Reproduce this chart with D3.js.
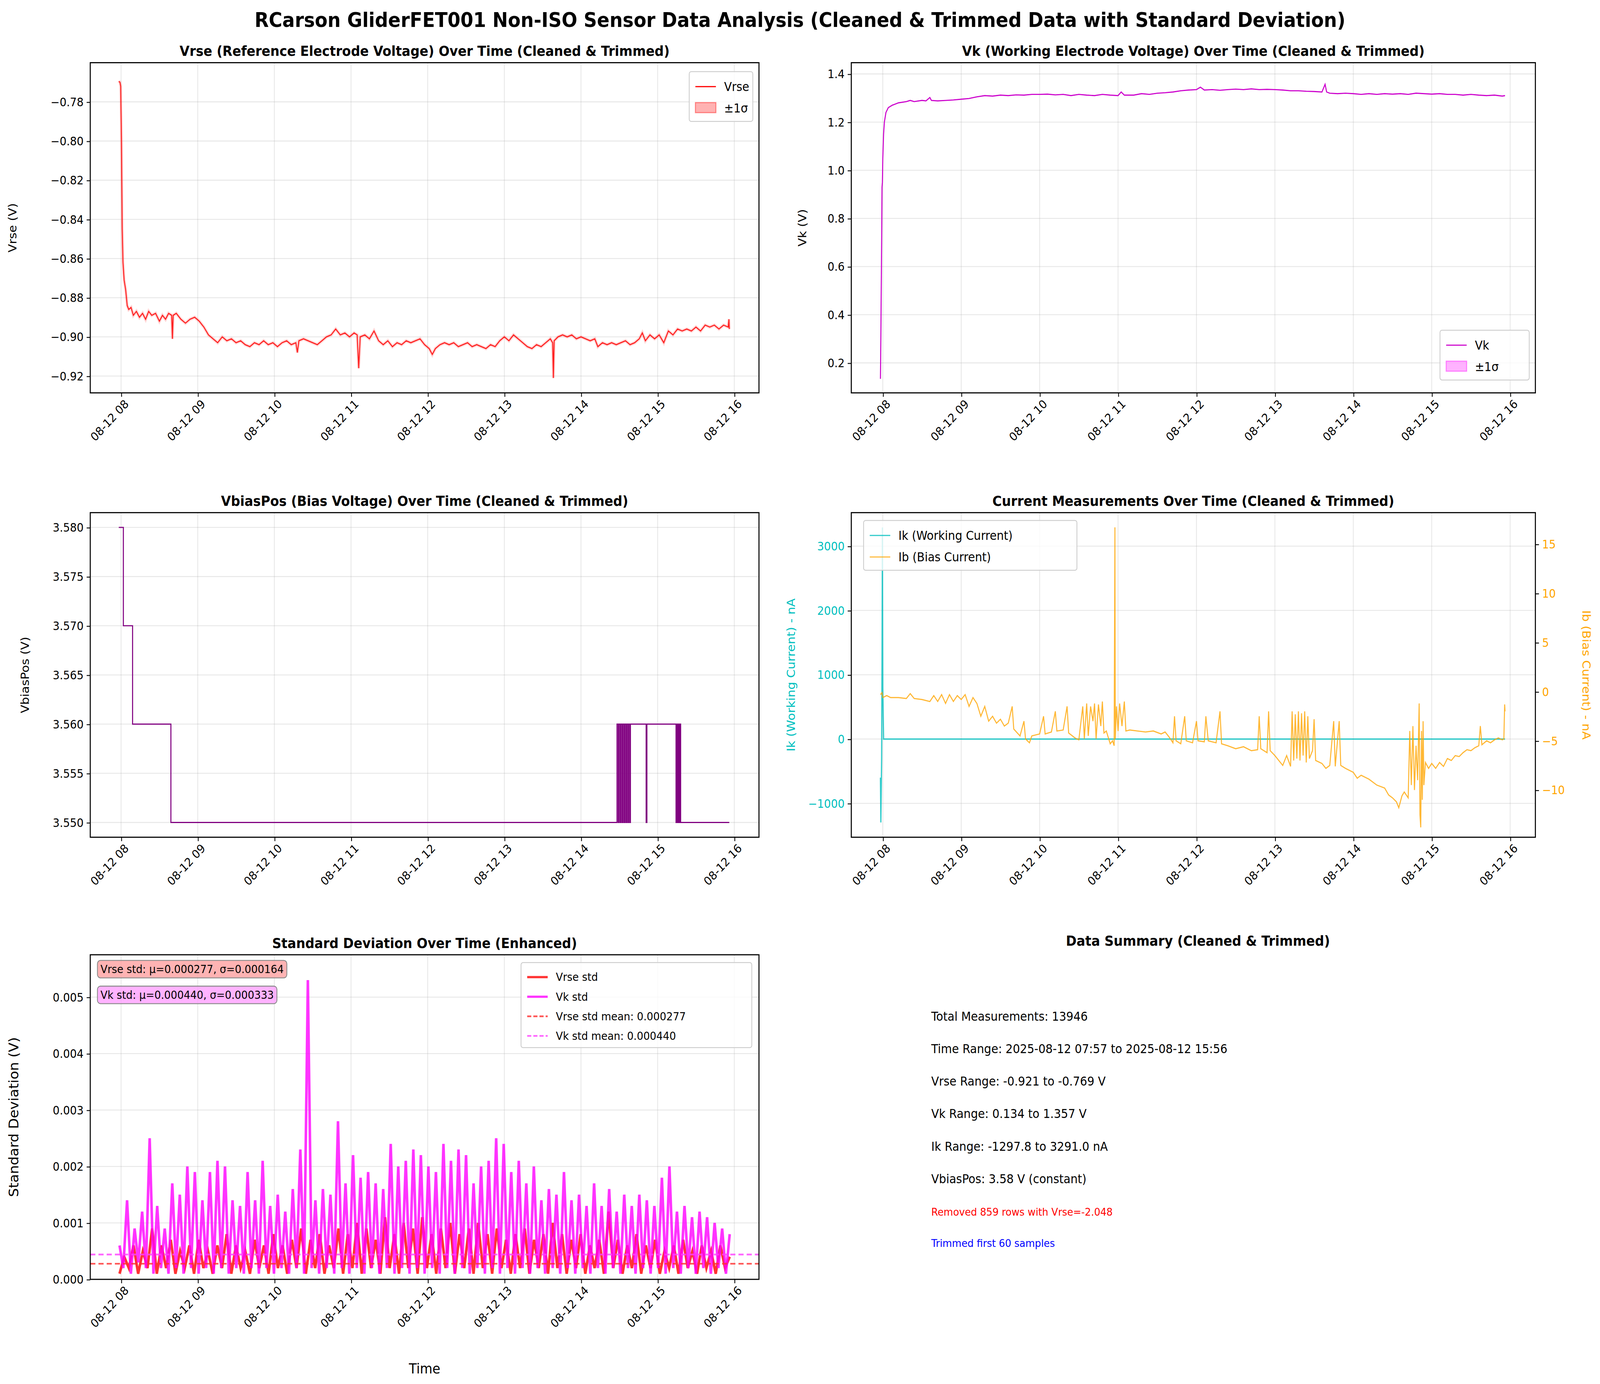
<!DOCTYPE html>
<html><head><meta charset="utf-8">
<script src="https://cdn.jsdelivr.net/npm/d3@7"></script>
<style>html,body{margin:0;padding:0;width:100%;height:100%;overflow:hidden;background:#fff} svg{display:block} text{font-family:"DejaVu Sans",sans-serif}</style>
</head><body>
<script>
// ---- data (hours of 2025-08-12, values) ----
const vrseData = [[7.97,-0.7695],[7.985,-0.770],[7.995,-0.772],[8.005,-0.80],[8.015,-0.845],[8.025,-0.862],[8.04,-0.871],[8.06,-0.876],[8.08,-0.884],[8.10,-0.886],[8.13,-0.885],[8.16,-0.889],[8.2,-0.887],[8.24,-0.890],[8.28,-0.888],[8.32,-0.891],[8.36,-0.887],[8.40,-0.889],[8.45,-0.888],[8.5,-0.892],[8.54,-0.889],[8.58,-0.891],[8.62,-0.888],[8.66,-0.889],[8.67,-0.901],[8.68,-0.889],[8.72,-0.888],[8.78,-0.891],[8.84,-0.893],[8.9,-0.891],[8.96,-0.890],[9.02,-0.892],[9.08,-0.895],[9.14,-0.899],[9.2,-0.901],[9.26,-0.903],[9.32,-0.900],[9.38,-0.902],[9.44,-0.901],[9.5,-0.903],[9.56,-0.902],[9.62,-0.904],[9.68,-0.905],[9.74,-0.903],[9.8,-0.904],[9.86,-0.902],[9.92,-0.904],[9.98,-0.903],[10.04,-0.905],[10.1,-0.903],[10.16,-0.902],[10.22,-0.904],[10.28,-0.903],[10.3,-0.908],[10.32,-0.902],[10.38,-0.901],[10.44,-0.902],[10.5,-0.903],[10.56,-0.904],[10.62,-0.902],[10.68,-0.900],[10.74,-0.899],[10.8,-0.896],[10.86,-0.899],[10.92,-0.898],[10.98,-0.900],[11.04,-0.898],[11.08,-0.899],[11.1,-0.916],[11.12,-0.900],[11.18,-0.899],[11.24,-0.901],[11.3,-0.897],[11.36,-0.902],[11.42,-0.904],[11.48,-0.902],[11.54,-0.905],[11.6,-0.903],[11.66,-0.904],[11.72,-0.902],[11.78,-0.903],[11.84,-0.902],[11.9,-0.901],[11.96,-0.904],[12.02,-0.906],[12.06,-0.909],[12.1,-0.906],[12.16,-0.904],[12.22,-0.903],[12.28,-0.904],[12.34,-0.903],[12.4,-0.905],[12.46,-0.904],[12.52,-0.903],[12.58,-0.905],[12.64,-0.904],[12.7,-0.905],[12.76,-0.906],[12.82,-0.904],[12.88,-0.905],[12.94,-0.902],[13.0,-0.900],[13.06,-0.902],[13.12,-0.899],[13.18,-0.901],[13.24,-0.903],[13.3,-0.905],[13.36,-0.906],[13.42,-0.904],[13.48,-0.905],[13.54,-0.903],[13.6,-0.901],[13.63,-0.903],[13.64,-0.921],[13.65,-0.902],[13.7,-0.900],[13.76,-0.899],[13.82,-0.900],[13.88,-0.899],[13.94,-0.901],[14.0,-0.900],[14.06,-0.901],[14.12,-0.902],[14.18,-0.901],[14.22,-0.905],[14.28,-0.903],[14.34,-0.904],[14.4,-0.903],[14.46,-0.904],[14.52,-0.903],[14.58,-0.902],[14.64,-0.904],[14.7,-0.903],[14.76,-0.901],[14.8,-0.898],[14.84,-0.902],[14.9,-0.899],[14.96,-0.901],[15.02,-0.899],[15.08,-0.903],[15.14,-0.897],[15.2,-0.899],[15.26,-0.896],[15.32,-0.897],[15.38,-0.896],[15.44,-0.897],[15.5,-0.895],[15.56,-0.897],[15.62,-0.894],[15.68,-0.895],[15.74,-0.894],[15.8,-0.896],[15.86,-0.894],[15.92,-0.895],[15.93,-0.891],[15.935,-0.896]];

const vkData = [[7.97,0.134],[7.975,0.3],[7.985,0.7],[7.99,0.93],[7.995,0.95],[8.0,1.05],[8.01,1.15],[8.02,1.2],[8.04,1.24],[8.07,1.26],[8.12,1.27],[8.2,1.28],[8.3,1.285],[8.35,1.29],[8.4,1.285],[8.5,1.29],[8.55,1.288],[8.6,1.302],[8.62,1.29],[8.7,1.288],[8.8,1.29],[8.9,1.292],[9.0,1.295],[9.1,1.298],[9.2,1.305],[9.3,1.31],[9.4,1.308],[9.5,1.312],[9.6,1.31],[9.7,1.313],[9.8,1.312],[9.9,1.315],[10.0,1.315],[10.1,1.316],[10.2,1.313],[10.3,1.315],[10.4,1.31],[10.5,1.315],[10.6,1.312],[10.7,1.31],[10.8,1.315],[10.9,1.312],[11.0,1.31],[11.04,1.325],[11.08,1.312],[11.2,1.312],[11.3,1.318],[11.4,1.315],[11.5,1.32],[11.6,1.322],[11.7,1.325],[11.8,1.33],[11.9,1.333],[12.0,1.335],[12.05,1.345],[12.1,1.333],[12.2,1.335],[12.3,1.332],[12.4,1.335],[12.5,1.337],[12.6,1.335],[12.7,1.338],[12.8,1.335],[12.9,1.336],[13.0,1.335],[13.1,1.333],[13.2,1.33],[13.3,1.33],[13.4,1.328],[13.5,1.327],[13.6,1.325],[13.64,1.357],[13.66,1.325],[13.7,1.32],[13.8,1.318],[13.9,1.32],[14.0,1.318],[14.1,1.315],[14.2,1.318],[14.3,1.315],[14.4,1.318],[14.5,1.316],[14.6,1.318],[14.7,1.315],[14.8,1.32],[14.9,1.318],[15.0,1.316],[15.1,1.318],[15.2,1.315],[15.3,1.315],[15.4,1.312],[15.5,1.315],[15.6,1.312],[15.7,1.31],[15.8,1.312],[15.9,1.308],[15.935,1.31]];

const vbiasData = [[7.97,3.58],[8.03,3.57],[8.15,3.56],[8.65,3.55],[14.47,3.56],[14.485,3.55],[14.495,3.56],[14.51,3.55],[14.52,3.56],[14.535,3.55],[14.545,3.56],[14.56,3.55],[14.57,3.56],[14.585,3.55],[14.595,3.56],[14.61,3.55],[14.62,3.56],[14.635,3.55],[14.645,3.56],[14.85,3.55],[14.86,3.56],[15.24,3.55],[15.25,3.56],[15.26,3.55],[15.27,3.56],[15.28,3.55],[15.29,3.56],[15.3,3.55],[15.935,3.55]];

const ikData = [[7.97,-600],[7.975,-1298],[7.985,-300],[7.99,1200],[7.995,3291],[8.0,800],[8.01,0],[15.935,0]];

const ibData = [[7.97,-0.3],[7.99,-0.1],[8.0,-0.6],[8.05,-0.4],[8.1,-0.6],[8.2,-0.6],[8.3,-0.7],[8.35,-0.2],[8.4,-0.7],[8.5,-0.8],[8.6,-1.0],[8.65,-0.4],[8.7,-1.0],[8.75,-0.3],[8.8,-1.2],[8.85,-0.3],[8.9,-1.0],[8.95,-0.4],[9.0,-0.8],[9.05,-0.3],[9.1,-1.5],[9.15,-0.6],[9.2,-1.2],[9.25,-2.5],[9.3,-1.5],[9.35,-3.0],[9.4,-2.5],[9.45,-3.2],[9.5,-2.8],[9.55,-3.5],[9.6,-3.2],[9.65,-1.5],[9.67,-3.8],[9.75,-4.5],[9.8,-3.0],[9.82,-4.8],[9.87,-5.2],[9.9,-4.5],[10.0,-4.3],[10.05,-2.5],[10.07,-4.3],[10.15,-4.1],[10.2,-2.0],[10.22,-4.0],[10.3,-3.9],[10.35,-1.5],[10.37,-4.2],[10.45,-4.7],[10.5,-4.9],[10.55,-1.5],[10.57,-4.8],[10.6,-1.2],[10.62,-4.5],[10.65,-1.5],[10.68,-3.0],[10.7,-1.2],[10.72,-4.8],[10.75,-1.3],[10.78,-3.5],[10.8,-1.0],[10.82,-4.2],[10.85,-4.0],[10.9,-5.3],[10.93,-5.0],[10.95,-5.5],[10.96,16.7],[10.965,-4.8],[10.98,-1.5],[11.0,-4.0],[11.02,-1.2],[11.05,-3.5],[11.08,-1.0],[11.1,-4.0],[11.15,-3.9],[11.25,-4.0],[11.35,-4.1],[11.45,-4.0],[11.55,-4.3],[11.6,-4.1],[11.65,-4.6],[11.7,-5.2],[11.72,-2.5],[11.74,-5.0],[11.8,-5.3],[11.85,-2.5],[11.87,-5.0],[11.95,-5.2],[12.0,-3.0],[12.02,-5.0],[12.1,-5.1],[12.12,-2.5],[12.15,-5.0],[12.25,-5.2],[12.3,-2.0],[12.32,-5.3],[12.4,-5.5],[12.5,-5.8],[12.6,-5.6],[12.7,-6.0],[12.78,-5.9],[12.8,-2.5],[12.82,-5.8],[12.9,-6.2],[12.92,-2.0],[12.94,-6.0],[13.0,-6.5],[13.05,-7.0],[13.1,-7.5],[13.15,-6.5],[13.2,-7.6],[13.22,-2.0],[13.24,-7.0],[13.26,-2.3],[13.28,-6.8],[13.3,-2.0],[13.32,-7.0],[13.34,-2.2],[13.36,-6.5],[13.38,-2.0],[13.4,-7.2],[13.42,-2.5],[13.44,-6.8],[13.48,-6.0],[13.5,-2.8],[13.52,-7.0],[13.6,-7.3],[13.65,-7.8],[13.7,-7.5],[13.75,-3.0],[13.77,-7.6],[13.82,-3.0],[13.84,-7.5],[13.9,-7.8],[14.0,-8.2],[14.05,-8.8],[14.1,-8.5],[14.2,-8.9],[14.3,-9.5],[14.4,-9.8],[14.45,-10.5],[14.5,-10.8],[14.55,-11.2],[14.58,-11.8],[14.62,-10.6],[14.65,-10.2],[14.7,-10.8],[14.72,-4.0],[14.74,-9.5],[14.76,-3.5],[14.78,-10.0],[14.8,-5.5],[14.82,-9.0],[14.84,-1.2],[14.85,-12.5],[14.86,-13.8],[14.87,-4.0],[14.88,-11.0],[14.89,-3.0],[14.9,-9.5],[14.92,-7.2],[14.96,-7.8],[15.0,-7.3],[15.05,-7.8],[15.1,-7.2],[15.15,-7.6],[15.2,-6.8],[15.25,-7.0],[15.3,-6.5],[15.35,-6.6],[15.4,-6.2],[15.45,-5.9],[15.5,-6.0],[15.55,-5.7],[15.6,-5.5],[15.62,-3.5],[15.64,-5.4],[15.7,-5.0],[15.75,-5.2],[15.8,-4.9],[15.85,-4.7],[15.9,-4.9],[15.92,-4.8],[15.93,-1.3],[15.935,-2.0]];

// rolling std samples, evenly spaced from stdStart to stdEnd
const stdStart = 7.98, stdEnd = 15.94;
const vkStd = [0.0006,0.0002,0.0014,0.0001,0.0009,0.0003,0.0012,0.0002,0.0025,0.0001,0.0013,0.0002,0.0009,0.0001,0.0017,0.0002,0.0015,0.0001,0.0020,0.0002,0.0019,0.0001,0.0014,0.0002,0.0019,0.0001,0.0021,0.0002,0.0020,0.0001,0.0014,0.0002,0.0013,0.0001,0.0019,0.0002,0.0014,0.0001,0.0021,0.0002,0.0013,0.0001,0.0015,0.0002,0.0012,0.0001,0.0016,0.0002,0.0023,0.0001,0.0053,0.0002,0.0014,0.0001,0.0016,0.0002,0.0015,0.0001,0.0028,0.0002,0.0017,0.0001,0.0022,0.0002,0.0018,0.0001,0.0019,0.0002,0.0017,0.0001,0.0016,0.0002,0.0024,0.0001,0.0020,0.0002,0.0021,0.0001,0.0023,0.0002,0.0022,0.0001,0.0020,0.0002,0.0019,0.0001,0.0024,0.0002,0.0021,0.0001,0.0023,0.0002,0.0022,0.0001,0.0017,0.0002,0.0020,0.0001,0.0021,0.0002,0.0025,0.0001,0.0024,0.0002,0.0019,0.0001,0.0021,0.0002,0.0017,0.0001,0.0020,0.0002,0.0014,0.0001,0.0016,0.0002,0.0015,0.0001,0.0019,0.0002,0.0014,0.0001,0.0015,0.0002,0.0013,0.0001,0.0017,0.0002,0.0013,0.0001,0.0016,0.0002,0.0012,0.0001,0.0015,0.0002,0.0013,0.0001,0.0015,0.0002,0.0014,0.0001,0.0013,0.0002,0.0018,0.0001,0.0020,0.0002,0.0012,0.0001,0.0013,0.0002,0.0011,0.0001,0.0012,0.0002,0.0011,0.0001,0.0010,0.0002,0.0009,0.0001,0.0008];
const vrseStd = [0.0001,0.0004,0.0002,0.0006,0.0001,0.0005,0.0002,0.0009,0.0001,0.0006,0.0002,0.0007,0.0001,0.0005,0.0002,0.0006,0.0001,0.0007,0.0002,0.0005,0.0001,0.0006,0.0002,0.0008,0.0001,0.0006,0.0002,0.0005,0.0001,0.0007,0.0002,0.0006,0.0001,0.0008,0.0002,0.0006,0.0001,0.0007,0.0002,0.0009,0.0001,0.0007,0.0002,0.0008,0.0001,0.0006,0.0002,0.0009,0.0001,0.0008,0.0002,0.0010,0.0001,0.0009,0.0002,0.0007,0.0001,0.0011,0.0002,0.0008,0.0001,0.0010,0.0002,0.0009,0.0001,0.0011,0.0002,0.0008,0.0001,0.0009,0.0002,0.0010,0.0001,0.0008,0.0002,0.0009,0.0001,0.0010,0.0002,0.0008,0.0001,0.0009,0.0002,0.0007,0.0001,0.0008,0.0002,0.0009,0.0001,0.0007,0.0002,0.0008,0.0001,0.0010,0.0002,0.0008,0.0001,0.0007,0.0002,0.0008,0.0001,0.0006,0.0002,0.0007,0.0001,0.0012,0.0002,0.0007,0.0001,0.0006,0.0002,0.0008,0.0001,0.0006,0.0002,0.0007,0.0001,0.0005,0.0002,0.0006,0.0001,0.0007,0.0002,0.0005,0.0001,0.0006,0.0002,0.0005,0.0001,0.0006,0.0002,0.0004];
const vrseStdMean = 0.000277, vkStdMean = 0.000440;

const timeTicks = [8, 9, 10, 11, 12, 13, 14, 15, 16];
const summaryLines = [
  "Total Measurements: 13946",
  "Time Range: 2025-08-12 07:57 to 2025-08-12 15:56",
  "Vrse Range: -0.921 to -0.769 V",
  "Vk Range: 0.134 to 1.357 V",
  "Ik Range: -1297.8 to 3291.0 nA",
  "VbiasPos: 3.58 V (constant)"
];

// ---- helpers ----
const W = 1560, H = 1236.5;
const svg = d3.select("body").append("svg")
  .attr("width", "100%").attr("height", "100%")
  .attr("viewBox", `0 0 ${W} ${H}`).attr("preserveAspectRatio", "none");

const day = new Date(2025, 7, 12);
const toDate = h => new Date(day.getTime() + h * 3600e3);
const fmt = d3.timeFormat("%m-%d %H");

function makeAxes(box, yDomain, yTicks, yFmt, title) {
  const g = svg.append("g").attr("transform", `translate(${box.x0},${box.y0})`);
  const w = box.x1 - box.x0, h = box.y1 - box.y0;
  const x = d3.scaleTime().domain([toDate(7.598), toDate(16.322)]).range([0, w]);
  const y = d3.scaleLinear().domain(yDomain).range([h, 0]);
  const clipId = "c" + Math.round(box.x0) + "_" + Math.round(box.y0);
  g.append("clipPath").attr("id", clipId).append("rect").attr("width", w).attr("height", h);
  // grid
  g.append("g").selectAll("line").data(timeTicks).join("line")
    .attr("x1", d => x(toDate(d))).attr("x2", d => x(toDate(d))).attr("y1", 0).attr("y2", h)
    .attr("stroke", "#b0b0b0").attr("stroke-opacity", 0.3).attr("stroke-width", 0.8);
  g.append("g").selectAll("line").data(yTicks).join("line")
    .attr("y1", d => y(d)).attr("y2", d => y(d)).attr("x1", 0).attr("x2", w)
    .attr("stroke", "#b0b0b0").attr("stroke-opacity", 0.3).attr("stroke-width", 0.8);
  const plot = g.append("g").attr("clip-path", `url(#${clipId})`);
  // axes
  const xa = g.append("g").attr("transform", `translate(0,${h})`)
    .call(d3.axisBottom(x).tickValues(timeTicks.map(toDate)).tickFormat(fmt).tickSize(3.5).tickPadding(3));
  xa.selectAll("text").attr("font-size", 10.5).attr("text-anchor", "end")
    .attr("transform", "rotate(-45)").attr("dx", "-0.2em").attr("dy", "0.6em");
  const ya = g.append("g")
    .call(d3.axisLeft(y).tickValues(yTicks).tickFormat(yFmt).tickSize(3.5).tickPadding(3));
  ya.selectAll("text").attr("font-size", 10.5);
  [xa, ya].forEach(a => { a.select(".domain").remove(); a.selectAll("line").attr("stroke", "#000").attr("stroke-width", 0.8); });
  g.append("rect").attr("width", w).attr("height", h).attr("fill", "none").attr("stroke", "#000").attr("stroke-width", 1);
  g.append("text").attr("x", w / 2).attr("y", -6).attr("text-anchor", "middle")
    .attr("font-size", 12.5).attr("font-weight", "bold").text(title);
  return {g, plot, x, y, w, h, ya};
}
const minus = s => s.replace("-", "\u2212");
function legend(g, lx, ly, lw, items, fs) {
  const lh = items.length * fs * 1.75 + 6;
  g.append("rect").attr("x", lx).attr("y", ly).attr("width", lw).attr("height", lh).attr("rx", 2)
    .attr("fill", "#fff").attr("fill-opacity", 0.8).attr("stroke", "#ccc").attr("stroke-width", 0.8);
  items.forEach((it, i) => {
    const cy = ly + 9 + fs * 0.4 + i * fs * 1.75;
    if (it.patch) g.append("rect").attr("x", lx + 6).attr("y", cy - 5).attr("width", 20).attr("height", 9)
      .attr("fill", it.color).attr("fill-opacity", 0.3).attr("stroke", it.color).attr("stroke-opacity", 0.4);
    else g.append("line").attr("x1", lx + 6).attr("x2", lx + 26).attr("y1", cy).attr("y2", cy)
      .attr("stroke", it.color).attr("stroke-width", it.sw || 1).attr("stroke-dasharray", it.dash || null)
      .attr("stroke-opacity", it.op || 1);
    g.append("text").attr("x", lx + 34).attr("y", cy).attr("dy", "0.35em").attr("font-size", fs).text(it.label);
  });
}
const lineOf = (ax, yScale) => d3.line().x(d => ax.x(toDate(d[0]))).y(d => (yScale || ax.y)(d[1]));

svg.append("text").attr("x", W / 2).attr("y", 24).attr("text-anchor", "middle")
  .attr("font-size", 18).attr("font-weight", "bold")
  .text("RCarson GliderFET001 Non-ISO Sensor Data Analysis (Cleaned & Trimmed Data with Standard Deviation)");

// ---- panel 1: Vrse ----
const a1 = makeAxes({x0: 88, x1: 740, y0: 56, y1: 351}, [-0.9286, -0.7600],
  [-0.78, -0.80, -0.82, -0.84, -0.86, -0.88, -0.90, -0.92], d => minus(d.toFixed(2)),
  "Vrse (Reference Electrode Voltage) Over Time (Cleaned & Trimmed)");
a1.plot.append("path").datum(vrseData).attr("fill", "none").attr("stroke", "#ff4040").attr("stroke-width", 3)
  .attr("stroke-opacity", 0.2).attr("d", lineOf(a1));
a1.plot.append("path").datum(vrseData).attr("fill", "none").attr("stroke", "red").attr("stroke-opacity", 0.85)
  .attr("stroke-width", 1).attr("d", lineOf(a1));
legend(a1.g, a1.w - 68, 8, 62, [{color: "red", label: "Vrse"}, {color: "red", label: "\u00b11\u03c3", patch: true}], 11);
a1.g.append("text").attr("transform", `translate(-72,${a1.h / 2}) rotate(-90)`).attr("text-anchor", "middle")
  .attr("font-size", 11).text("Vrse (V)");

// ---- panel 2: Vk ----
const a2 = makeAxes({x0: 830, x1: 1497, y0: 56, y1: 351}, [0.0755, 1.4467],
  [0.2, 0.4, 0.6, 0.8, 1.0, 1.2, 1.4], d => d.toFixed(1),
  "Vk (Working Electrode Voltage) Over Time (Cleaned & Trimmed)");
a2.plot.append("path").datum(vkData).attr("fill", "none").attr("stroke", "#cc00cc").attr("stroke-width", 1)
  .attr("d", lineOf(a2));
legend(a2.g, a2.w - 93, a2.h - 56, 87, [{color: "#cc00cc", label: "Vk"}, {color: "magenta", label: "\u00b11\u03c3", patch: true}], 11);
a2.g.append("text").attr("transform", `translate(-44,${a2.h / 2}) rotate(-90)`).attr("text-anchor", "middle")
  .attr("font-size", 11).text("Vk (V)");

// ---- panel 3: VbiasPos ----
const a3 = makeAxes({x0: 88, x1: 740, y0: 458, y1: 748}, [3.5485, 3.5815],
  [3.550, 3.555, 3.560, 3.565, 3.570, 3.575, 3.580], d => d.toFixed(3),
  "VbiasPos (Bias Voltage) Over Time (Cleaned & Trimmed)");
a3.plot.append("path").datum(vbiasData).attr("fill", "none").attr("stroke", "#800080").attr("stroke-width", 1)
  .attr("d", lineOf(a3).curve(d3.curveStepAfter));
a3.g.append("text").attr("transform", `translate(-60,${a3.h / 2}) rotate(-90)`).attr("text-anchor", "middle")
  .attr("font-size", 11).text("VbiasPos (V)");

// ---- panel 4: currents ----
const a4 = makeAxes({x0: 830, x1: 1497, y0: 458, y1: 748}, [-1527, 3521],
  [-1000, 0, 1000, 2000, 3000], d => minus(String(d)),
  "Current Measurements Over Time (Cleaned & Trimmed)");
a4.ya.selectAll("text").attr("fill", "#00bfbf");
const yb = d3.scaleLinear().domain([-14.8, 18.2]).range([a4.h, 0]);
a4.plot.append("path").datum(ikData).attr("fill", "none").attr("stroke", "#00bfbf").attr("stroke-opacity", 0.8)
  .attr("stroke-width", 1.2).attr("d", lineOf(a4));
a4.plot.append("path").datum(ibData).attr("fill", "none").attr("stroke", "orange").attr("stroke-opacity", 0.8)
  .attr("stroke-width", 1).attr("d", lineOf(a4, yb));
const yr = a4.g.append("g").attr("transform", `translate(${a4.w},0)`)
  .call(d3.axisRight(yb).tickValues([-10, -5, 0, 5, 10, 15]).tickFormat(d => minus(String(d))).tickSize(3.5).tickPadding(3));
yr.select(".domain").remove();
yr.selectAll("line").attr("stroke", "#000").attr("stroke-width", 0.8);
yr.selectAll("text").attr("font-size", 10.5).attr("fill", "orange");
a4.g.append("text").attr("transform", `translate(-55,${a4.h / 2}) rotate(-90)`).attr("text-anchor", "middle")
  .attr("font-size", 11).attr("fill", "#00bfbf").text("Ik (Working Current) - nA");
a4.g.append("text").attr("transform", `translate(${a4.w + 46},${a4.h / 2}) rotate(90)`).attr("text-anchor", "middle")
  .attr("font-size", 11).attr("fill", "orange").text("Ib (Bias Current) - nA");
legend(a4.g, 12, 7, 208, [{color: "#00bfbf", label: "Ik (Working Current)", op: 0.8}, {color: "orange", label: "Ib (Bias Current)", op: 0.8}], 11);

// ---- panel 5: std ----
const a5 = makeAxes({x0: 88, x1: 740, y0: 853, y1: 1143}, [0, 0.00575],
  [0, 0.001, 0.002, 0.003, 0.004, 0.005], d => d.toFixed(3),
  "Standard Deviation Over Time (Enhanced)");
const stdPts = arr => arr.map((v, i) => [stdStart + i * (stdEnd - stdStart) / (arr.length - 1), v]);
a5.plot.append("path").datum(stdPts(vrseStd)).attr("fill", "none").attr("stroke", "red").attr("stroke-opacity", 0.8)
  .attr("stroke-width", 2.5).attr("d", lineOf(a5));
a5.plot.append("path").datum(stdPts(vkStd)).attr("fill", "none").attr("stroke", "magenta").attr("stroke-opacity", 0.8)
  .attr("stroke-width", 2.5).attr("d", lineOf(a5));
[[vkStdMean, "#ff40ff"], [vrseStdMean, "#ff3030"]].forEach(([m, c]) =>
  a5.plot.append("line").attr("x1", 0).attr("x2", a5.w).attr("y1", a5.y(m)).attr("y2", a5.y(m))
    .attr("stroke", c).attr("stroke-opacity", 0.8).attr("stroke-width", 1.5).attr("stroke-dasharray", "5,3"));
legend(a5.g, a5.w - 232, 7, 225, [
  {color: "red", label: "Vrse std", sw: 2, op: 0.8},
  {color: "magenta", label: "Vk std", sw: 2, op: 0.8},
  {color: "#ff3030", label: "Vrse std mean: 0.000277", dash: "4,2", sw: 1.5, op: 0.8},
  {color: "#ff40ff", label: "Vk std mean: 0.000440", dash: "4,2", sw: 1.5, op: 0.8}], 10);
[["Vrse std: \u03bc=0.000277, \u03c3=0.000164", "#ff9999", 3], ["Vk std: \u03bc=0.000440, \u03c3=0.000333", "#ff99ff", 26]].forEach(([t, c, yy]) => {
  const tx = a5.g.append("text").attr("x", 10).attr("y", yy + 10).attr("dy", "0.35em").attr("font-size", 10).text(t);
  const bb = tx.node().getBBox();
  a5.g.insert("rect", () => tx.node()).attr("x", bb.x - 3).attr("y", bb.y - 2).attr("width", bb.width + 6)
    .attr("height", bb.height + 4).attr("rx", 3).attr("fill", c).attr("fill-opacity", 0.75)
    .attr("stroke", "#888").attr("stroke-width", 0.8);
});
a5.g.append("text").attr("transform", `translate(-70,${a5.h / 2}) rotate(-90)`).attr("text-anchor", "middle")
  .attr("font-size", 12.5).text("Standard Deviation (V)");
a5.g.append("text").attr("x", a5.w / 2).attr("y", a5.h + 84).attr("text-anchor", "middle")
  .attr("font-size", 12.5).text("Time");

// ---- summary ----
svg.append("text").attr("x", 1168).attr("y", 845).attr("text-anchor", "middle")
  .attr("font-size", 12.5).attr("font-weight", "bold").text("Data Summary (Cleaned & Trimmed)");
svg.append("g").selectAll("text").data(summaryLines).join("text")
  .attr("x", 908).attr("y", (d, i) => 912 + i * 29).attr("font-size", 11).text(d => d);
svg.append("text").attr("x", 908).attr("y", 1086).attr("font-size", 9.5).attr("fill", "red")
  .text("Removed 859 rows with Vrse=-2.048");
svg.append("text").attr("x", 908).attr("y", 1114).attr("font-size", 9.5).attr("fill", "blue")
  .text("Trimmed first 60 samples");
</script>
</body></html>
